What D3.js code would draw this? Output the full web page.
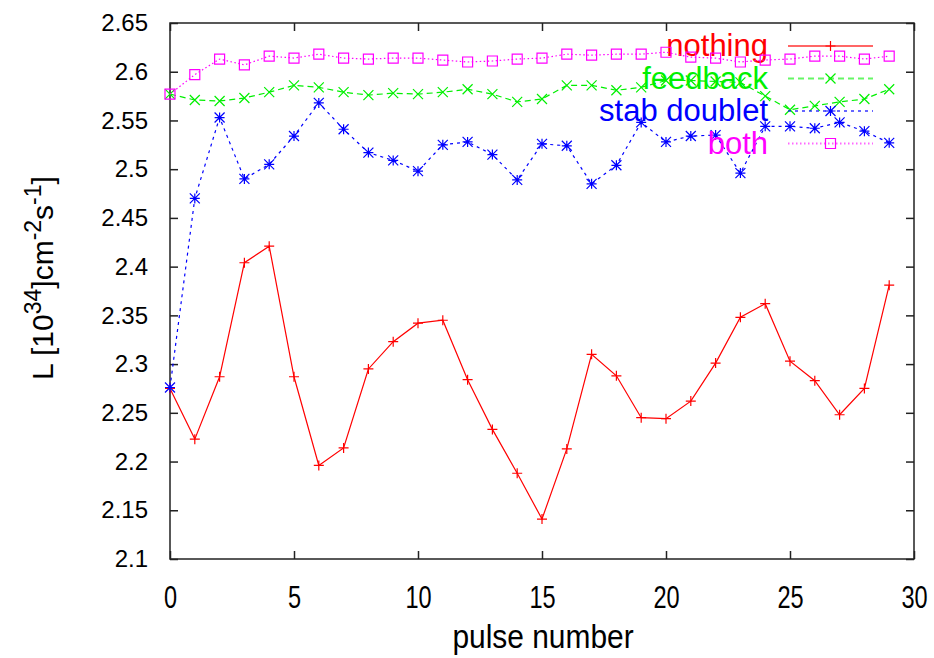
<!DOCTYPE html>
<html>
<head>
<meta charset="utf-8">
<script src="https://cdn.jsdelivr.net/npm/d3@7/dist/d3.min.js"></script>
<style>
  body { margin: 0; background: #fff; }
  svg text { font-family: "Liberation Sans", Arial, sans-serif; fill: #000; }
</style>
</head>
<body>
<div id="chart"></div>
<script>
// pulse index (x values)
const pulses = [0, 1, 2, 3, 4, 5, 6, 7, 8, 9, 10, 11, 12, 13, 14,
                15, 16, 17, 18, 19, 20, 21, 22, 23, 24, 25, 26, 27, 28, 29];

const nothing = [2.275, 2.223, 2.287, 2.404, 2.421, 2.287, 2.196, 2.214, 2.295, 2.323,
                 2.342, 2.345, 2.284, 2.233, 2.188, 2.141, 2.213, 2.310, 2.288, 2.245,
                 2.244, 2.262, 2.301, 2.348, 2.362, 2.303, 2.283, 2.248, 2.275, 2.381];

const feedback = [2.577, 2.571, 2.570, 2.573, 2.579, 2.586, 2.584, 2.579, 2.576, 2.578,
                  2.577, 2.579, 2.582, 2.577, 2.569, 2.572, 2.586, 2.586, 2.581, 2.584,
                  2.591, 2.591, 2.590, 2.589, 2.575, 2.561, 2.565, 2.569, 2.572, 2.582];

const stabDoublet = [2.276, 2.470, 2.553, 2.490, 2.505, 2.534, 2.568, 2.541, 2.517, 2.509,
                     2.498, 2.525, 2.528, 2.515, 2.489, 2.526, 2.524, 2.485, 2.504, 2.548,
                     2.528, 2.534, 2.535, 2.496, 2.544, 2.544, 2.542, 2.548, 2.539, 2.527];

const both = [2.577, 2.597, 2.613, 2.607, 2.616, 2.614, 2.618, 2.614, 2.613, 2.614,
              2.614, 2.612, 2.610, 2.611, 2.613, 2.614, 2.618, 2.617, 2.618, 2.618,
              2.620, 2.615, 2.614, 2.610, 2.612, 2.613, 2.616, 2.616, 2.613, 2.616];

const seriesNames = ['nothing', 'feedback', 'stab doublet', 'both'];
const xTicks = [0, 5, 10, 15, 20, 25, 30];
const yTicks = [2.1, 2.15, 2.2, 2.25, 2.3, 2.35, 2.4, 2.45, 2.5, 2.55, 2.6, 2.65];

const width = 934;
const height = 658;
const plot = { left: 170, right: 914, top: 23, bottom: 559 };

const svg = d3.select('#chart')
  .append('svg')
  .attr('width', width)
  .attr('height', height);

const x = d3.scaleLinear().domain([0, 30]).range([plot.left, plot.right]);
const y = d3.scaleLinear().domain([2.1, 2.65]).range([plot.bottom, plot.top]);

// axes with inward ticks (mirrored on top / right)
svg.append('g')
  .attr('transform', `translate(${plot.left},0)`)
  .call(d3.axisLeft(y).tickValues(yTicks).tickSize(-8).tickPadding(22).tickFormat(d3.format('')))
  .call(g => g.select('.domain').remove())
  .call(g => g.selectAll('.tick line').attr('stroke', '#222').attr('stroke-width', 1.5))
  .call(g => g.selectAll('text').style('font-size', '24px').attr('fill', '#000'));

svg.append('g')
  .attr('transform', `translate(${plot.right},0)`)
  .call(d3.axisRight(y).tickValues(yTicks).tickSize(-8).tickFormat(''))
  .call(g => g.select('.domain').remove())
  .call(g => g.selectAll('.tick line').attr('stroke', '#222').attr('stroke-width', 1.5));

// x tick labels are drawn tall and narrow in the original
svg.append('g')
  .attr('transform', `translate(0,${plot.bottom})`)
  .call(d3.axisBottom(x).tickValues(xTicks).tickSize(-8).tickPadding(27))
  .call(g => g.select('.domain').remove())
  .call(g => g.selectAll('.tick line').attr('stroke', '#222').attr('stroke-width', 1.5))
  .call(g => g.selectAll('text')
    .style('font-size', '31px')
    .attr('transform', 'scale(0.76,1)')
    .attr('fill', '#000'));

svg.append('g')
  .attr('transform', `translate(0,${plot.top})`)
  .call(d3.axisTop(x).tickValues(xTicks).tickSize(-8).tickFormat(''))
  .call(g => g.select('.domain').remove())
  .call(g => g.selectAll('.tick line').attr('stroke', '#222').attr('stroke-width', 1.5));

// border
svg.append('rect')
  .attr('x', plot.left)
  .attr('y', plot.top)
  .attr('width', plot.right - plot.left)
  .attr('height', plot.bottom - plot.top)
  .attr('fill', 'none')
  .attr('stroke', '#222')
  .attr('stroke-width', 1.5);

// axis titles
svg.append('text')
  .attr('transform', `translate(${(plot.left + plot.right) / 2 + 1},648) scale(0.88,1)`)
  .attr('text-anchor', 'middle')
  .style('font-size', '34px')
  .text('pulse number');

const ylab = svg.append('text')
  .attr('transform', 'translate(53,278) rotate(-90)')
  .attr('text-anchor', 'middle')
  .style('font-size', '30px');
ylab.append('tspan').text('L [10');
ylab.append('tspan').attr('dy', -12).style('font-size', '23px').text('34');
ylab.append('tspan').attr('dy', 12).text(']cm');
ylab.append('tspan').attr('dy', -12).style('font-size', '23px').text('-2');
ylab.append('tspan').attr('dy', 12).text('s');
ylab.append('tspan').attr('dy', -12).style('font-size', '23px').text('-1');
ylab.append('tspan').attr('dy', 12).text(']');

// point markers, gnuplot style
const s = 5;
const markers = {
  plus: `M${-s},0H${s}M0,${-s}V${s}`,
  cross: `M${-s},${-s}L${s},${s}M${-s},${s}L${s},${-s}`,
  star: `M${-s},0H${s}M0,${-s}V${s}M${-s},${-s}L${s},${s}M${-s},${s}L${s},${-s}`,
  square: `M${-s},${-s}H${s}V${s}H${-s}Z`
};

const series = [
  { name: seriesNames[0], values: nothing, color: '#ff0000', dash: null, marker: 'plus' },
  { name: seriesNames[1], values: feedback, color: '#00f000', dash: '6,4', marker: 'cross' },
  { name: seriesNames[2], values: stabDoublet, color: '#0000ff', dash: '3,4', marker: 'star' },
  { name: seriesNames[3], values: both, color: '#ff00ff', dash: '1.5,2.5', marker: 'square' }
];

const line = d3.line()
  .x((d, i) => x(pulses[i]))
  .y(d => y(d));

const legendRight = 768;
const sampleX0 = 788;
const sampleX1 = 873;

series.forEach((sr, k) => {
  const rowY = 46 + k * 32.5;

  // key entry
  svg.append('text')
    .attr('x', legendRight)
    .attr('y', rowY + 10)
    .attr('text-anchor', 'end')
    .style('fill', sr.color)
    .style('font-size', '31px')
    .text(sr.name);

  svg.append('line')
    .attr('x1', sampleX0)
    .attr('x2', sampleX1)
    .attr('y1', rowY)
    .attr('y2', rowY)
    .attr('stroke', sr.color)
    .attr('stroke-opacity', 0.6)
    .attr('stroke-width', 2)
    .attr('stroke-dasharray', sr.dash);

  svg.append('path')
    .attr('d', markers[sr.marker])
    .attr('transform', `translate(${(sampleX0 + sampleX1) / 2},${rowY})`)
    .attr('fill', 'none')
    .attr('stroke', sr.color)
    .attr('stroke-width', 1.2);

  // data line and points
  svg.append('path')
    .datum(sr.values)
    .attr('d', line)
    .attr('fill', 'none')
    .attr('stroke', sr.color)
    .attr('stroke-width', 1.2)
    .attr('stroke-dasharray', sr.dash);

  svg.append('g')
    .selectAll('path')
    .data(sr.values)
    .enter()
    .append('path')
    .attr('d', markers[sr.marker])
    .attr('transform', (d, i) => `translate(${x(pulses[i])},${y(d)})`)
    .attr('fill', 'none')
    .attr('stroke', sr.color)
    .attr('stroke-width', 1.2);
});
</script>
</body>
</html>
